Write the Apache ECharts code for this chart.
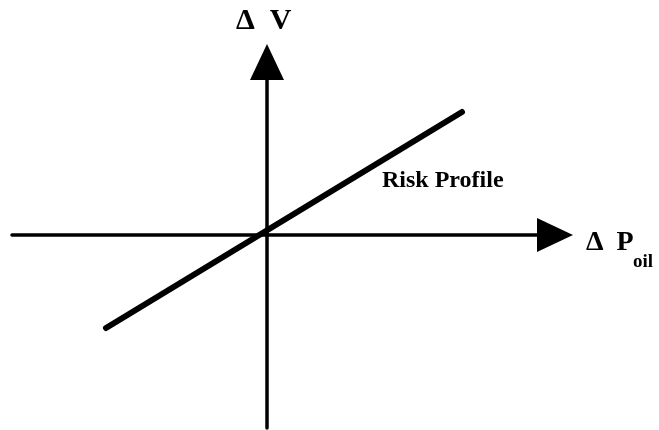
<!DOCTYPE html>
<html>
<head>
<meta charset="utf-8">
<script src="https://cdn.jsdelivr.net/npm/echarts@6/dist/echarts.min.js"></script>
<style>
  html, body { margin: 0; padding: 0; background: #fff; }
  #chart { width: 659px; height: 430px; }
</style>
</head>
<body>
<div id="chart"></div>
<script>
// risk profile line, two end points (x = change in oil price, y = change in value)
var profileX = [-161, 195];
var profileY = [-93, 123];
var xRange = [-255, 288];
var yRange = [-193, 173];

var chart = echarts.init(document.getElementById("chart"));
var font = "'Liberation Serif', 'Times New Roman', serif";

var option = {
  animation: false,
  grid: { left: 12, right: 104, top: 62, bottom: 2 },
  xAxis: {
    type: "value",
    min: xRange[0],
    max: xRange[1],
    axisLine: {
      onZero: true,
      symbol: ["none", "triangle"],
      symbolSize: [34, 36],
      lineStyle: { color: "#000", width: 3.5 }
    },
    axisTick: { show: false },
    axisLabel: { show: false },
    splitLine: { show: false }
  },
  yAxis: {
    type: "value",
    min: yRange[0],
    max: yRange[1],
    axisLine: {
      onZero: true,
      symbol: ["none", "triangle"],
      symbolSize: [34, 36],
      lineStyle: { color: "#000", width: 3.5 }
    },
    axisTick: { show: false },
    axisLabel: { show: false },
    splitLine: { show: false }
  },
  series: [
    {
      type: "line",
      data: profileX.map(function (x, i) { return [x, profileY[i]]; }),
      showSymbol: false,
      lineStyle: { color: "#000", width: 6, cap: "round" }
    }
  ],
  graphic: [
    {
      type: "text",
      left: 236, top: 6,
      style: {
        text: "{d|Δ}{v|V}",
        fill: "#000",
        rich: {
          d: { font: "bold 30px " + font },
          v: { font: "bold 30px " + font, padding: [0, 0, 0, 15] }
        }
      }
    },
    {
      type: "text",
      left: 382, top: 169,
      style: { text: "Risk Profile", font: "bold 24px " + font, fill: "#000" }
    },
    {
      type: "text",
      left: 586, top: 229,
      style: {
        text: "{d|Δ}{p|P}",
        fill: "#000",
        rich: {
          d: { font: "bold 28px " + font },
          p: { font: "bold 28px " + font, padding: [0, 0, 0, 13] }
        }
      }
    },
    {
      type: "text",
      left: 633, top: 253,
      style: { text: "oil", font: "bold 19px " + font, fill: "#000" }
    }
  ]
};
chart.setOption(option);
</script>
</body>
</html>
